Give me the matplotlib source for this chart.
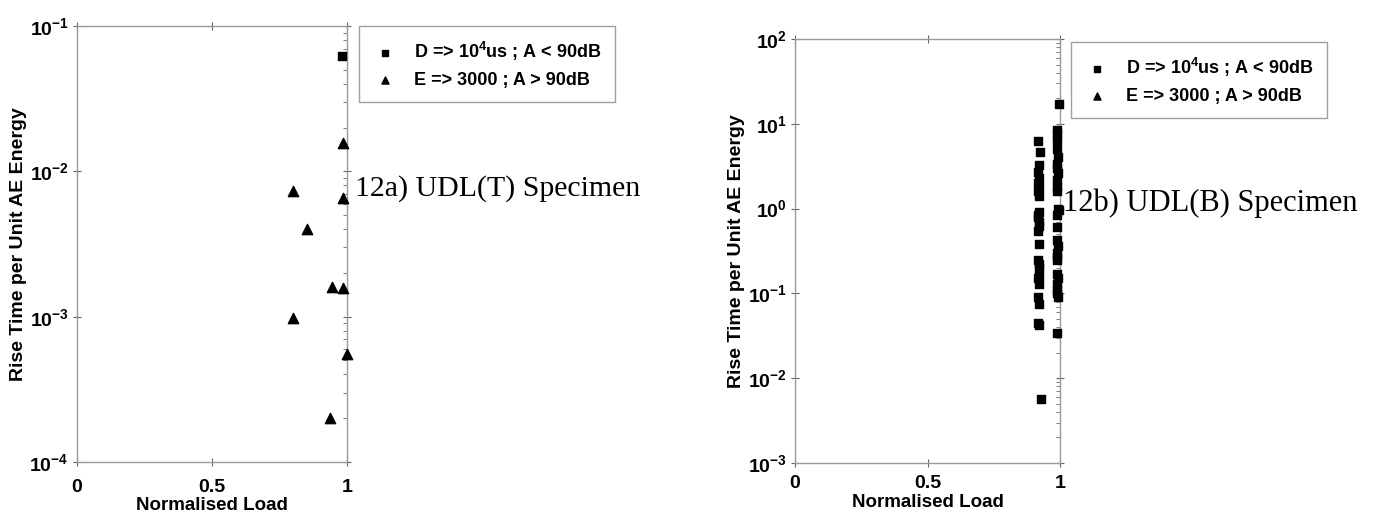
import numpy as np
import matplotlib
matplotlib.use("Agg")
import matplotlib.pyplot as plt
from matplotlib.ticker import LogLocator, FixedLocator, FuncFormatter, NullFormatter

plt.rcParams['font.family'] = ['Liberation Sans', 'DejaVu Sans']
plt.rcParams['font.weight'] = 'bold'
plt.rcParams['mathtext.default'] = 'regular'
plt.rcParams['axes.unicode_minus'] = False

#%% data
# 12a) UDL(T) specimen
a_D_load = [0.98]
a_D_rt = [0.062]
a_E_load = [0.985, 0.80, 0.985, 0.85, 0.945, 0.985, 0.80, 1.0, 0.937]
a_E_rt = [0.0158, 0.0073, 0.0066, 0.0040, 0.0016, 0.00158, 0.00098, 0.00055, 0.0002]

# 12b) UDL(B) specimen - two columns of D points
b_D_load = [0.918, 0.925, 0.92, 0.918, 0.922, 0.918, 0.92, 0.918, 0.922, 0.92,
            0.918, 0.92, 0.922, 0.918, 0.92, 0.918, 0.92, 0.922, 0.918, 0.92,
            0.918, 0.92, 0.918, 0.922, 0.92, 0.918, 0.93,
            0.998, 0.99, 0.99, 0.988, 0.99, 0.992, 0.988, 0.99, 0.992, 0.988,
            0.99, 0.99, 0.992, 0.995, 0.99, 0.988, 0.99, 0.992, 0.99, 0.988,
            0.99, 0.992, 0.99, 0.988, 0.99, 0.992, 0.99, 0.99]
b_D_rt = [6.2, 4.7, 3.3, 2.7, 2.3, 2.0, 1.8, 1.6, 1.4, 0.9,
          0.8, 0.7, 0.62, 0.55, 0.38, 0.25, 0.22, 0.2, 0.15, 0.13,
          0.09, 0.075, 0.045, 0.042, 0.16, 0.85, 0.0057,
          17.0, 8.5, 7.5, 6.5, 5.0, 4.1, 3.4, 3.0, 2.6, 2.2,
          1.8, 1.6, 1.0, 0.95, 0.85, 0.6, 0.43, 0.36, 0.3, 0.25,
          0.17, 0.15, 0.13, 0.11, 0.1, 0.09, 0.034, 0.27]

lbl_D = 'D => 10$^4$us ; A < 90dB'
lbl_E = 'E => 3000 ; A > 90dB'

#%%
def exp_fmt(v, pos):
    return '10$^{%d}$' % int(round(np.log10(v)))

def style(ax, ylo, yhi, xpad):
    ax.set_yscale('log')
    ax.set_xlim(0, 1)
    ax.set_ylim(ylo, yhi)
    for s in ax.spines.values():
        s.set_color('#999999')
        s.set_linewidth(1.0)
    ax.xaxis.set_major_locator(FixedLocator([0, 0.5, 1]))
    ax.xaxis.set_major_formatter(FuncFormatter(lambda v, p: '%g' % v))
    ax.yaxis.set_major_locator(LogLocator(base=10, numticks=10))
    ax.yaxis.set_major_formatter(FuncFormatter(exp_fmt))
    ax.yaxis.set_minor_locator(LogLocator(base=10, subs=np.arange(2, 10), numticks=10))
    ax.yaxis.set_minor_formatter(NullFormatter())
    ax.tick_params(which='major', direction='inout', length=6, width=0.8,
                   color='#666666', labelsize=14, top=True, right=True, pad=3)
    ax.tick_params(axis='x', which='major', pad=xpad)
    ax.tick_params(which='minor', left=False, right=True, direction='in',
                   length=3, width=0.6, color='#666666')
    ax.set_xlabel('Normalised Load', fontsize=13.5, fontweight='bold', labelpad=1)
    ax.set_ylabel('Rise Time per Unit AE Energy', fontsize=14, fontweight='bold', labelpad=2)

def add_legend(ax, x, y):
    h1 = ax.scatter([], [], marker='s', s=22, c='black')
    h2 = ax.scatter([], [], marker='^', s=26, c='black')
    leg = ax.legend([h1, h2], [lbl_D, lbl_E], loc='upper left', bbox_to_anchor=(x, y),
                    borderaxespad=0, fancybox=False, frameon=True, fontsize=13,
                    handletextpad=0.9, borderpad=0.75, labelspacing=0.5, handlelength=1.4)
    leg.get_frame().set_edgecolor('#888888')
    leg.get_frame().set_linewidth(1.0)

fig = plt.figure(figsize=(13.86, 5.29), dpi=100)

ax1 = fig.add_axes([0.0556, 0.1267, 0.1948, 0.824])
ax1.scatter(a_D_load, a_D_rt, marker='s', s=40, c='black', clip_on=False, zorder=3)
ax1.scatter(a_E_load, a_E_rt, marker='^', s=55, c='black', clip_on=False, zorder=3)
style(ax1, 1e-4, 1e-1, 9)
add_legend(ax1, 1.044, 1.0)

ax2 = fig.add_axes([0.5736, 0.1248, 0.1912, 0.8015])
ax2.scatter(b_D_load, b_D_rt, marker='s', s=36, c='black', clip_on=False, zorder=3)
style(ax2, 1e-3, 1e2, 6)
add_legend(ax2, 1.042, 0.993)

fig.text(0.256, 0.643, '12a) UDL(T) Specimen', family='Liberation Serif',
         fontweight='normal', fontsize=21.5, va='center', ha='left')
fig.text(0.767, 0.616, '12b) UDL(B) Specimen', family='Liberation Serif',
         fontweight='normal', fontsize=22, va='center', ha='left')

fig.savefig('out.png', dpi=100)
